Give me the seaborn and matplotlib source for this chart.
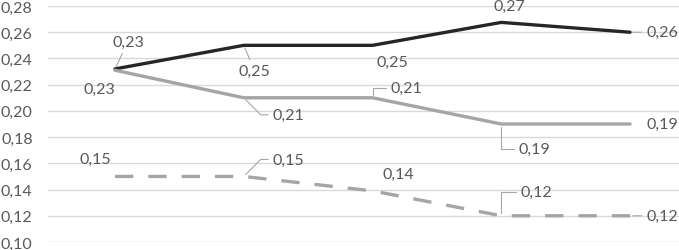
import numpy as np
import pandas as pd
import matplotlib.pyplot as plt
import seaborn as sns

# data
positions = [0, 1, 2, 3, 4]
dark_vals = [0.232, 0.250, 0.250, 0.2675, 0.260]
grey_vals = [0.231, 0.210, 0.210, 0.190, 0.190]
dash_vals = [0.150, 0.150, 0.139, 0.120, 0.120]
y_ticks = [0.10, 0.12, 0.14, 0.16, 0.18, 0.20, 0.22, 0.24, 0.26, 0.28]

sns.set_style("white")
plt.rcParams['font.family'] = ['Lato', 'DejaVu Sans']

fig = plt.figure(figsize=(6.79, 2.51), dpi=100)
ax = fig.add_axes([48 / 679, 8 / 251, 1 - 48 / 679, 236 / 251])

df = pd.DataFrame({"x": positions, "dark": dark_vals, "grey": grey_vals, "dash": dash_vals})

sns.lineplot(data=df, x="x", y="dark", ax=ax, color="#262626", lw=2.4)
sns.lineplot(data=df, x="x", y="grey", ax=ax, color="#a5a5a5", lw=2.4)
sns.lineplot(data=df, x="x", y="dash", ax=ax, color="#a5a5a5", lw=2.4, dashes=False)
ax.lines[-1].set_dashes((5.5, 4.5))

ax.set_xlim(-0.52, 4.38)
ax.set_ylim(0.10, 0.28)
ax.set_yticks(y_ticks)
ax.set_yticklabels([f"{v:.2f}".replace(".", ",") for v in y_ticks])
ax.set_xticks([])
ax.set_xlabel("")
ax.set_ylabel("")
ax.grid(axis="y", color="#d9d9d9", lw=1)
ax.set_axisbelow(True)
for s in ax.spines.values():
    s.set_visible(False)
ax.tick_params(axis="y", length=0, pad=11, labelsize=11.5, labelcolor="#595959")

lead = dict(arrowstyle="-", color="#a6a6a6", lw=0.8, shrinkA=1, shrinkB=2)

def label(x, y, dx, dy, conn=None, leader=True):
    props = None
    if leader:
        props = dict(lead)
        if conn:
            props["connectionstyle"] = conn
    ax.annotate(f"{y:.2f}".replace(".", ","), (x, y), xytext=(dx, dy),
                textcoords="offset pixels", ha="center", va="center",
                fontsize=11.5, color="#595959", arrowprops=props,
                annotation_clip=False)

# dark series labels
label(0, dark_vals[0], 13, 27)
label(1, dark_vals[1], 11, -26)
label(2, dark_vals[2], 20, -17, leader=False)
label(3, dark_vals[3], 8, 16, leader=False)
label(4, dark_vals[4], 32, 0)

# grey series labels
label(0, grey_vals[0], -16, -19, leader=False)
label(1, grey_vals[1], 45, -17, conn="angle,angleA=0,angleB=-45,rad=0")
label(2, grey_vals[2], 34, 10, conn="angle,angleA=0,angleB=90,rad=0")
label(3, grey_vals[3], 33, -25, conn="angle,angleA=0,angleB=90,rad=0")
label(4, grey_vals[4], 32, 0, leader=False)

# dashed series labels
label(0, dash_vals[0], -20, 18, leader=False)
label(1, dash_vals[1], 45, 17, conn="angle,angleA=0,angleB=45,rad=0")
label(2, dash_vals[2], 26, 17, leader=False)
label(3, dash_vals[3], 35, 24, conn="angle,angleA=0,angleB=90,rad=0")
label(4, dash_vals[4], 32, 0)

fig.savefig("out.png", dpi=100)
